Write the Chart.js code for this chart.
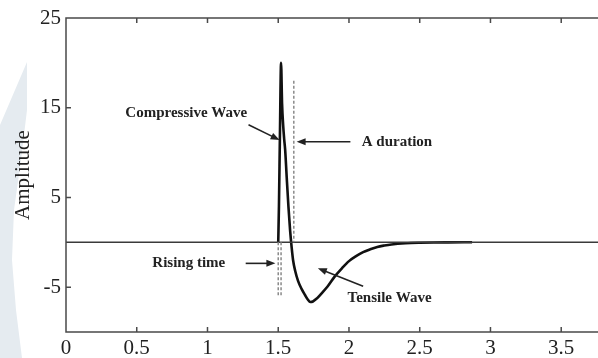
<!DOCTYPE html>
<html>
<head>
<meta charset="utf-8">
<script src="https://cdn.jsdelivr.net/npm/chart.js@4.4.1/dist/chart.umd.min.js"></script>
<style>
  html, body { margin: 0; padding: 0; background: #fff; }
  #wrap { position: relative; width: 598px; height: 358px; overflow: hidden; }
  #mark { position: absolute; left: 0; top: 0; width: 40px; height: 358px; background: #e5ebf0;
          clip-path: polygon(27px 62px, 27px 110px, 21px 160px, 14px 210px, 12px 260px, 16px 310px, 22px 358px, 0 358px, 0 125px); }
  canvas { position: absolute; left: 0; top: 0; }
</style>
</head>
<body>
<div id="wrap">
  <div id="mark"></div>
  <canvas id="wave_graph" width="598" height="358"></canvas>
</div>
<script>
// axis ticks
var xTicks = [0, 0.5, 1, 1.5, 2, 2.5, 3, 3.5];
var yTicks = [-5, 5, 15, 25];

// signal
var waveX = [1.50, 1.505, 1.512, 1.52, 1.527, 1.535, 1.542, 1.549, 1.56, 1.572, 1.584, 1.595, 1.605, 1.62, 1.64,
             1.665, 1.69, 1.71, 1.726, 1.745, 1.77, 1.80, 1.85, 1.90, 1.95, 2.00, 2.05, 2.10, 2.15, 2.20,
             2.25, 2.30, 2.40, 2.50, 2.60, 2.70, 2.87];
var waveY = [0, 4, 12, 20, 15.5, 13, 11.5, 10.3, 7.2, 4.0, 1.3, -0.6, -2.0, -3.2, -4.3,
             -5.2, -5.9, -6.4, -6.65, -6.6, -6.3, -5.8, -4.9, -3.8, -2.9, -2.1, -1.55, -1.1, -0.78, -0.52,
             -0.36, -0.24, -0.11, -0.05, -0.02, -0.01, 0];

var baseX = [0, 3.76];
var baseY = [0, 0];

// dashed markers
var durationX = [1.61, 1.61];
var durationY = [18, 0];
var riseAX = [1.50, 1.50];
var riseBX = [1.52, 1.52];
var riseY = [0, -5.9];

// annotations (text anchor + arrow from/to, in data units)
var noteText = ["Compressive Wave", "A duration", "Rising time", "Tensile Wave"];
var noteX = [0.85, 2.09, 0.61, 1.99];
var noteY = [14.4, 11.2, -2.35, -6.25];
var noteAlign = ["center", "left", "left", "left"];
var arrowFromX = [1.29, 2.01, 1.27, 2.10];
var arrowFromY = [13.1, 11.2, -2.35, -4.9];
var arrowToX = [1.51, 1.63, 1.48, 1.78];
var arrowToY = [11.4, 11.2, -2.35, -2.9];

function pts(xs, ys) {
    return xs.map(function (x, i) { return {x: x, y: ys[i]}; });
}

var frame = {
    id: 'frame',
    afterDatasetsDraw: function (chart) {
        var c = chart.ctx, a = chart.chartArea;
        var sx = chart.scales.x, sy = chart.scales.y;
        c.save();
        c.strokeStyle = "#4a4a4a";
        c.lineWidth = 1.5;
        c.beginPath();
        c.moveTo(a.right + 2, a.top); c.lineTo(a.left, a.top);
        c.lineTo(a.left, a.bottom); c.lineTo(a.right + 2, a.bottom);
        xTicks.forEach(function (v) {
            var px = sx.getPixelForValue(v);
            c.moveTo(px, a.bottom); c.lineTo(px, a.bottom - 5);
            c.moveTo(px, a.top); c.lineTo(px, a.top + 5);
        });
        yTicks.forEach(function (v) {
            var py = sy.getPixelForValue(v);
            c.moveTo(a.left, py); c.lineTo(a.left + 5, py);
        });
        c.stroke();

        // annotations
        c.fillStyle = "#222";
        c.strokeStyle = "#222";
        c.lineWidth = 1.6;
        c.font = "bold 15px 'Liberation Serif', serif";
        c.textBaseline = "middle";
        noteText.forEach(function (t, i) {
            c.textAlign = noteAlign[i];
            c.fillText(t, sx.getPixelForValue(noteX[i]), sy.getPixelForValue(noteY[i]));
            var x1 = sx.getPixelForValue(arrowFromX[i]), y1 = sy.getPixelForValue(arrowFromY[i]);
            var x2 = sx.getPixelForValue(arrowToX[i]), y2 = sy.getPixelForValue(arrowToY[i]);
            var ang = Math.atan2(y2 - y1, x2 - x1);
            c.beginPath();
            c.moveTo(x1, y1);
            c.lineTo(x2 - 6 * Math.cos(ang), y2 - 6 * Math.sin(ang));
            c.stroke();
            c.beginPath();
            c.moveTo(x2, y2);
            c.lineTo(x2 - 9 * Math.cos(ang) + 3.5 * Math.sin(ang), y2 - 9 * Math.sin(ang) - 3.5 * Math.cos(ang));
            c.lineTo(x2 - 9 * Math.cos(ang) - 3.5 * Math.sin(ang), y2 - 9 * Math.sin(ang) + 3.5 * Math.cos(ang));
            c.closePath();
            c.fill();
        });
        c.restore();
    }
};

var dashStyle = {
    borderColor: "#8a8a8a",
    borderWidth: 1.5,
    borderDash: [3, 2],
    pointRadius: 0,
    tension: 0
};

var config_wave = {
    type: 'line',
    data: {
        datasets: [
            Object.assign({data: pts(durationX, durationY)}, dashStyle),
            Object.assign({data: pts(riseAX, riseY)}, dashStyle),
            Object.assign({data: pts(riseBX, riseY)}, dashStyle),
            {
                data: pts(baseX, baseY),
                borderColor: "#3a3a3a",
                borderWidth: 1.5,
                pointRadius: 0
            },
            {
                label: 'Amplitude',
                data: pts(waveX, waveY),
                borderColor: "#111",
                borderWidth: 2.6,
                pointRadius: 0,
                cubicInterpolationMode: 'monotone'
            }
        ]
    },
    options: {
        responsive: false,
        animation: false,
        layout: {padding: {top: 18, left: 0, right: 0, bottom: 0}},
        plugins: {
            legend: {display: false},
            tooltip: {enabled: false}
        },
        scales: {
            x: {
                type: 'linear',
                min: 0,
                max: 3.76,
                grid: {display: false, drawTicks: false},
                border: {display: false},
                ticks: {
                    padding: 4,
                    color: "#222",
                    font: {family: "'Liberation Serif', serif", size: 21},
                    maxRotation: 0,
                    autoSkip: false,
                    callback: function (v) { return String(v); }
                },
                afterBuildTicks: function (s) { s.ticks = xTicks.map(function (v) { return {value: v}; }); },
                afterFit: function (s) { s.height = 26; }
            },
            y: {
                min: -10,
                max: 25,
                grid: {display: false, drawTicks: false},
                border: {display: false},
                ticks: {
                    padding: 5,
                    color: "#222",
                    font: {family: "'Liberation Serif', serif", size: 21},
                    callback: function (v) { return String(v); }
                },
                title: {
                    display: true,
                    text: 'Amplitude',
                    color: "#222",
                    font: {family: "'Liberation Serif', serif", size: 21},
                    padding: {top: 11, bottom: 0}
                },
                afterBuildTicks: function (s) { s.ticks = yTicks.map(function (v) { return {value: v}; }); },
                afterFit: function (s) { s.width = 66; }
            }
        }
    },
    plugins: [frame]
};

var ctx_wave = document.getElementById("wave_graph").getContext("2d");
new Chart(ctx_wave, config_wave);
</script>
</body>
</html>
